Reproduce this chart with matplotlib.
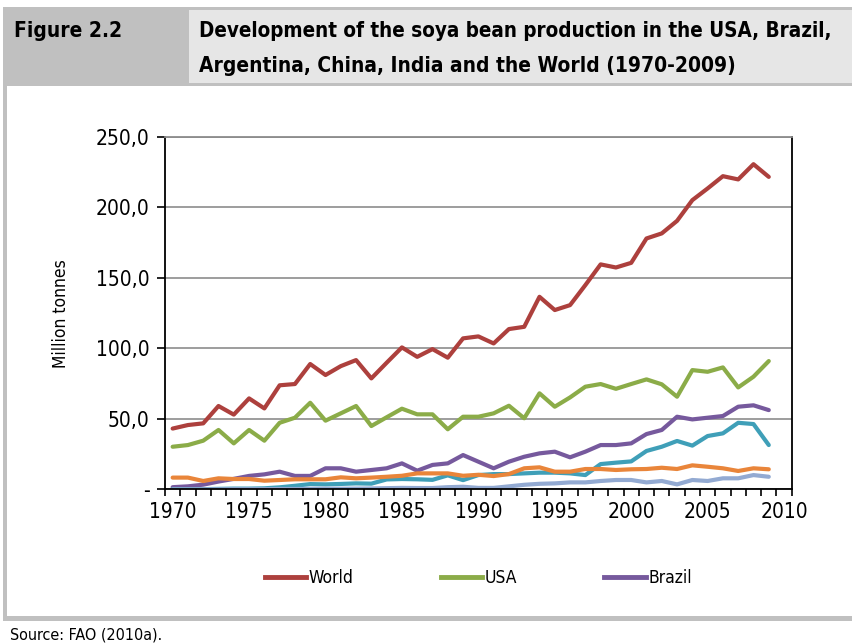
import matplotlib
matplotlib.use("Agg")

import numpy as np
import matplotlib.pyplot as plt
from matplotlib.patches import Rectangle
from matplotlib.lines import Line2D

plt.rcParams['font.family'] = ['DejaVu Sans']
plt.rcParams['font.stretch'] = 'condensed'

# soya bean production, million tonnes
years = list(range(1970, 2010))

world = [43.1, 45.6, 46.8, 59.1, 53.0, 64.5, 57.4, 73.8, 74.7, 88.9,
         81.1, 87.4, 91.7, 78.7, 89.8, 100.7, 94.0, 99.5, 93.4, 107.1,
         108.5, 103.5, 113.7, 115.3, 136.6, 127.2, 130.7, 144.9, 159.6, 157.4,
         160.7, 178.0, 181.6, 190.5, 205.2, 213.5, 222.2, 219.9, 230.7, 221.7]

usa = [30.2, 31.4, 34.5, 42.1, 32.6, 42.1, 34.5, 47.2, 50.8, 61.4,
       48.7, 53.9, 59.1, 44.9, 51.1, 57.2, 53.2, 53.2, 42.6, 51.5,
       51.5, 53.9, 59.3, 50.4, 68.1, 58.6, 65.2, 72.8, 74.7, 71.3,
       74.7, 78.0, 74.5, 65.7, 84.6, 83.4, 86.5, 72.3, 79.9, 91.0]

brazil = [1.5, 2.1, 3.3, 5.5, 7.4, 9.5, 10.6, 12.5, 9.5, 9.5,
          14.9, 14.9, 12.5, 13.7, 14.9, 18.4, 13.2, 17.3, 18.4, 24.3,
          19.6, 14.9, 19.6, 23.1, 25.5, 26.7, 22.7, 26.7, 31.4, 31.4,
          32.6, 39.2, 42.1, 51.5, 49.6, 50.8, 52.0, 58.6, 59.6, 56.2]

argentina = [0.1, 0.1, 0.1, 0.3, 0.5, 0.5, 0.7, 1.4, 2.5, 3.7,
             3.5, 3.8, 4.2, 4.0, 7.0, 7.3, 7.1, 6.7, 9.9, 6.5,
             10.1, 10.8, 10.8, 11.3, 11.8, 11.8, 11.3, 10.1, 17.9, 18.9,
             19.8, 27.2, 30.2, 34.3, 31.0, 37.8, 39.7, 47.2, 46.3, 31.4]

china = [8.3, 8.3, 5.9, 7.8, 7.3, 7.3, 6.1, 6.6, 7.1, 7.1,
         7.1, 8.5, 7.8, 8.3, 8.9, 9.6, 11.3, 11.3, 11.3, 9.6,
         10.3, 9.4, 10.8, 14.9, 15.6, 12.5, 12.5, 14.4, 14.4, 13.7,
         14.2, 14.4, 15.3, 14.4, 17.0, 16.0, 14.9, 13.0, 14.9, 14.2]

india = [0.0, 0.0, 0.0, 0.0, 0.1, 0.1, 0.1, 0.2, 0.2, 0.3,
         0.4, 0.4, 0.5, 0.6, 0.8, 1.0, 0.9, 0.9, 1.5, 1.8,
         1.0, 1.0, 2.1, 3.2, 3.9, 4.2, 4.9, 4.9, 5.9, 6.6,
         6.6, 4.9, 5.9, 3.5, 6.6, 5.9, 7.8, 7.8, 10.1, 8.9]

series = [
    ("World", world, "#AD403D"),
    ("USA", usa, "#8BAC48"),
    ("Brazil", brazil, "#76599D"),
    ("Argentina", argentina, "#3F9FB8"),
    ("China", china, "#E9853A"),
    ("India", india, "#93AAD2"),
]
legend_names = ["World", "USA", "Brazil"]

W, H = 853, 644
fig = plt.figure(figsize=(W / 100, H / 100), dpi=100)


def box(x0, y0, x1, y1, color):
    # pixel coords measured from top-left
    fig.patches.append(Rectangle((x0 / W, 1 - y1 / H), (x1 - x0) / W, (y1 - y0) / H,
                                 transform=fig.transFigure, facecolor=color,
                                 edgecolor="none", zorder=0))


grey = "#C0C0C0"
box(3, 7, W, 86, grey)
box(189, 10, W, 83, "#E6E6E6")
box(3, 86, 7, 621, grey)
box(3, 616, W, 621, grey)

fig.text(14 / W, 1 - 31 / H, "Figure 2.2", fontsize=15, fontweight="bold",
         va="center", ha="left")
fig.text(199 / W, 1 - 31 / H, "Development of the soya bean production in the USA, Brazil,",
         fontsize=14.8, fontweight="bold", va="center", ha="left")
fig.text(199 / W, 1 - 66 / H, "Argentina, China, India and the World (1970-2009)",
         fontsize=15.05, fontweight="bold", va="center", ha="left")
fig.text(10 / W, 1 - 635 / H, "Source: FAO (2010a).", fontsize=11.5, va="center", ha="left")

ax = fig.add_axes([165 / W, 1 - 489.3 / H, (791.7 - 165) / W, (489.3 - 137) / H])

for name, vals, col in series:
    ax.plot(years, vals, color=col, lw=3, solid_capstyle="round",
            solid_joinstyle="round", label=name)

ax.set_xlim(1969.5, 2010.5)
ax.set_ylim(0, 250)
ax.set_yticks(range(0, 251, 50))
ax.set_yticklabels(["-", "50,0", "100,0", "150,0", "200,0", "250,0"])
ax.set_xticks(range(1970, 2011, 5))
ax.set_xticks(np.arange(1969.5, 2011, 1), minor=True)
ax.tick_params(axis="x", which="major", length=0, labelsize=15, pad=9)
ax.tick_params(axis="x", which="minor", length=5, width=1.2, direction="out")
ax.tick_params(axis="y", length=6, width=1.2, direction="out", labelsize=15, pad=5)
ax.grid(axis="y", color="#8C8C8C", lw=1.2)
ax.set_axisbelow(True)
for s in ax.spines.values():
    s.set_linewidth(1.3)
ax.spines["top"].set_color("#8C8C8C")
ax.set_ylabel("Million tonnes", fontsize=12.5, labelpad=19)

handles = [Line2D([], [], color=c, lw=3.5) for n, v, c in series if n in legend_names]
ax.legend(handles, legend_names, loc="center", bbox_to_anchor=(0.5, (489.3 - 578) / (489.3 - 137)),
          ncol=3, frameon=False, fontsize=12.5, handlelength=2.4, handletextpad=0.15,
          columnspacing=5.0)

fig.savefig("out.png", dpi=100)
